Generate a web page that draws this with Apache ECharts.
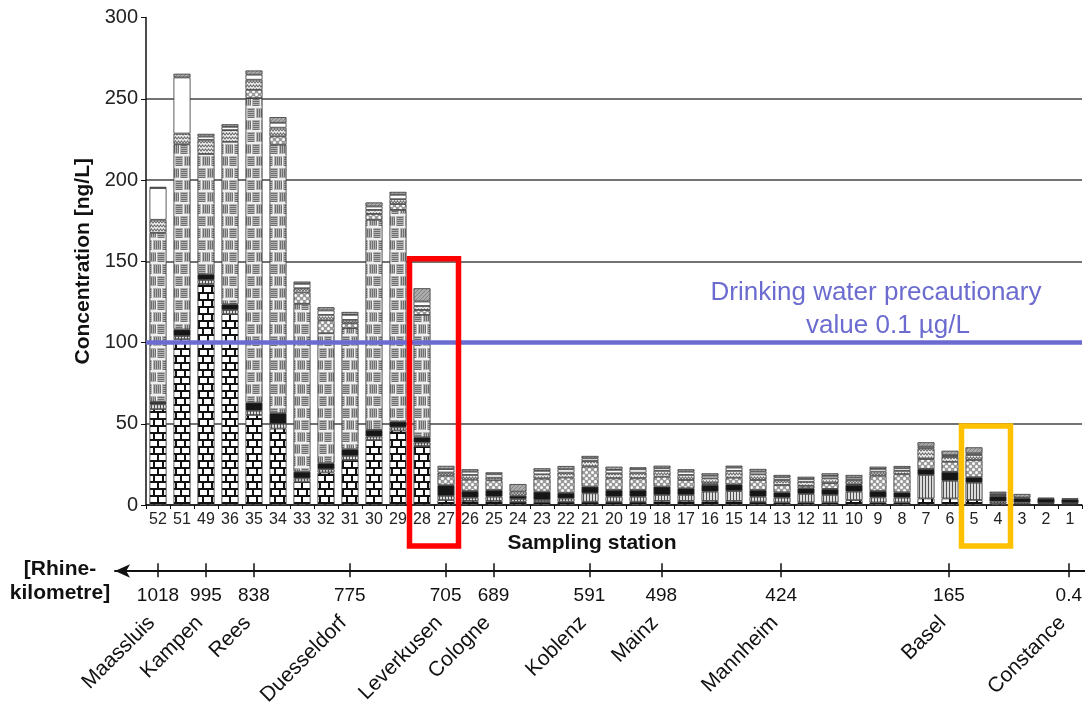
<!DOCTYPE html>
<html>
<head>
<meta charset="utf-8">
<title>Rhine sampling stations</title>
<script src="https://cdn.jsdelivr.net/npm/echarts@6/dist/echarts.min.js"></script>
<style>
  html, body { margin: 0; padding: 0; background: #ffffff; }
  #chart { width: 1085px; height: 706px; }
</style>
</head>
<body>
<div id="chart"></div>
<script>
// Sampling stations, downstream (left) to upstream (right)
const stations = ['52','51','49','36','35','34','33','32','31','30','29','28','27','26','25','24','23','22','21','20','19','18','17','16','15','14','13','12','11','10','9','8','7','6','5','4','3','2','1'];

// Stacked concentration components, ng/L (bottom to top)
const brickPart   = [59,102,136,117.5,55.4,47,14.3,20,27.7,40,45.8,36.3, 3,2.5,2.5,2,1.8,2, 2,2,2,2.5,2.5,2.5,2.5,2, 1.6,1.6,1.6,3,1.6,1.6,4,4,3.1,1,0.6,0.5,0.5];
const stripePart  = [3,2,2.5,2.5,2.6,3,2.1,2,2.5,2.1,2,2.1, 2.6,2,2.6,1.7,1.3,2, 5.2,3.1,3.1,3.7,3.7,5.7,6.1,3.1, 2.9,5.2,4.6,5.2,3.1,2.9,14.5,10.9,10.6,1.2,1,0.6,0.6];
const blackPart   = [1.5,4,3.5,3.5,5,6.5,4.1,3.7,4.1,4.1,3.5,3.3, 6.6,4.1,4.1,2,5.1,3.5, 4.1,4.1,4.1,5.1,4.1,4.1,4.1,4.1, 3.3,3.5,3.7,4.1,3.9,3.3,3.7,5.5,3.4,3.2,2.5,2.8,2.4];
const grayBrickPart = [104,114,74,100,187.4,165.2,103.3,80,74.5,129.3,130.3,75.3, 0,0,0,0,0,0, 0,0,0,0,0,0,0,0, 0,0,0,0,0,0,0,0,0,0,0,0,0];
const dotPart     = [0,0,0,0,5.1,5.2,7,8,3,3.6,3.6,3, 5.8,7,6,0,8,9.4, 12.3,7.2,7.2,6.1,5.1,1,4.1,6.2, 4.5,1.5,3.5,0.5,9.4,11.1,6.1,6.2,10.6,0,0,0,0];
const wavePart    = [8,6.6,8.7,7.2,6.2,5.3,2.6,3.3,2.1,2.5,3,2.5, 2,2.9,1.6,2.5,2.7,3, 3.5,3.1,3.5,3.6,3.1,3.1,4.2,3.5, 3.1,2.5,3,2.6,2.5,2.1,6.6,3,3.1,0.8,0.5,0,0];
const whitePart   = [19.5,34.5,2,2,3.1,3,2.7,2.7,3.1,2.1,2.7,2.7, 2.1,2,2.1,0,2.1,2.1, 1.6,2.1,2.1,1.6,2,1.6,2,1.6, 1.6,1.7,1.5,1.4,1.7,1.6,1,1.1,1,0.8,0,0,0];
const capPart     = [0.8,2.3,1.7,1.6,2.6,3.5,1.4,2,1.8,2.5,1.8,8.2, 2,1.5,1.2,4.7,1.6,2, 1.5,2,1.2,1.6,1.5,1.5,1.2,1.7, 1.5,1.4,1.6,1.7,1.4,1.4,2.7,2.7,3.7,1.2,2.2,0.6,0.6];

// Y-axis ticks
const yTicks = [0, 50, 100, 150, 200, 250, 300];

// Precautionary value line
const guideValue = 100;

// Rhine-kilometre axis: station where each mark sits, its kilometre and town
const kmStation = ['52','49','35','31','27','25','21','18','13','6','1'];
const kmValue   = ['1018','995','838','775','705','689','591','498','424','165','0.4'];
const kmTown    = ['Maassluis','Kampen','Rees','Duesseldorf','Leverkusen','Cologne','Koblenz','Mainz','Mannheim','Basel','Constance'];

// Highlighted station pairs
const boxFrom  = ['28', '5'];
const boxTo    = ['27', '4'];
const boxTop   = [151.5, 48.6];
const boxColor = ['#ff0000', '#ffc000'];

const FONT = '"Liberation Sans", Arial, Helvetica, sans-serif';
const plotLeft = 146, plotRight = 3;
const axisY = 570;

// Fill patterns
function tile(w, h, draw) {
  const c = document.createElement('canvas');
  c.width = w; c.height = h;
  const g = c.getContext('2d');
  draw(g, w, h);
  return { image: c, repeat: 'repeat' };
}

const patBrick = tile(18, 14, (g) => {
  g.fillStyle = '#ffffff'; g.fillRect(0, 0, 18, 14);
  g.fillStyle = '#111111';
  g.fillRect(0, 5, 18, 2); g.fillRect(0, 12, 18, 2);
  g.fillRect(0, 0, 2, 5); g.fillRect(9, 0, 2, 5);
  g.fillRect(4, 7, 2, 5); g.fillRect(13, 7, 2, 5);
});

const patGrayBrick = tile(18, 24, (g) => {
  g.fillStyle = '#f0f0f0'; g.fillRect(0, 0, 18, 24);
  const bricks = [[0, 0, 0], [9, 0, 1], [4, 12, 1], [13, 12, 0], [-5, 12, 0]];
  bricks.forEach(([x, y, dir]) => {
    g.fillStyle = '#b4b4b4'; g.fillRect(x, y, 8, 10);
    g.fillStyle = '#6f6f6f';
    if (dir === 0) { for (let k = 1; k < 10; k += 2) g.fillRect(x + 1, y + k, 6, 1); }
    else { for (let k = 1; k < 8; k += 2) g.fillRect(x + k, y + 1, 1, 8); }
  });
});

const patStripe = tile(3, 3, (g) => {
  g.fillStyle = '#dcdcdc'; g.fillRect(0, 0, 3, 3);
  g.fillStyle = '#505050'; g.fillRect(1, 0, 1, 3);
});

const patDots = tile(6, 6, (g) => {
  g.fillStyle = '#9a9a9a'; g.fillRect(0, 0, 6, 6);
  g.fillStyle = '#ffffff';
  [[1.5, 1.5], [4.5, 4.5]].forEach(([x, y]) => { g.beginPath(); g.arc(x, y, 1.5, 0, Math.PI * 2); g.fill(); });
});

const patWave = tile(6, 4, (g) => {
  g.fillStyle = '#eeeeee'; g.fillRect(0, 0, 6, 4);
  g.strokeStyle = '#707070'; g.lineWidth = 1.1;
  g.beginPath(); g.moveTo(0, 3); g.lineTo(1.5, 1); g.lineTo(3, 3); g.lineTo(4.5, 1); g.lineTo(6, 3); g.stroke();
});

const patCap = tile(4, 4, (g) => {
  g.fillStyle = '#ababab'; g.fillRect(0, 0, 4, 4);
  g.strokeStyle = '#848484'; g.lineWidth = 1;
  g.beginPath(); g.moveTo(0, 4); g.lineTo(4, 0); g.stroke();
});

const layers = [
  { name: 'brick',      data: brickPart,     color: patBrick },
  { name: 'stripes',    data: stripePart,    color: patStripe },
  { name: 'black',      data: blackPart,     color: '#161616' },
  { name: 'gray brick', data: grayBrickPart, color: patGrayBrick },
  { name: 'dots',       data: dotPart,       color: patDots },
  { name: 'wave',       data: wavePart,      color: patWave },
  { name: 'white',      data: whitePart,     color: '#ffffff' },
  { name: 'cap',        data: capPart,       color: patCap }
];

const isKm = (idx, value) => kmStation.indexOf(value) >= 0;

const chart = echarts.init(document.getElementById('chart'), null, { renderer: 'canvas' });

const gridColors = yTicks.map(v => v === 300 ? 'rgba(0,0,0,0)' : '#454545');

const series = layers.map((L, k) => {
  const s = {
    type: 'bar',
    name: L.name,
    stack: 'total',
    xAxisIndex: 0,
    yAxisIndex: 0,
    barWidth: 17,
    silent: true,
    data: L.data.map(v => (v > 0 ? v : '-')),
    itemStyle: { color: L.color, borderColor: '#333333', borderWidth: 0.8 }
  };
  if (k === layers.length - 1) {
    s.markLine = {
      silent: true,
      symbol: ['none', 'none'],
      label: { show: false },
      lineStyle: { color: '#6b6bd0', width: 4.5, type: 'solid' },
      data: [{ yAxis: guideValue }]
    };
  }
  return s;
});

// The river-kilometre axes carry the station list too, so their ticks get laid out
[2, 3].forEach(ax => {
  series.push({
    type: 'scatter', name: 'river axis ' + ax, xAxisIndex: ax, yAxisIndex: 2,
    silent: true, symbolSize: 0, itemStyle: { opacity: 0 },
    data: stations.map(s => [s, 0])
  });
});

const option = {
  animation: false,
  backgroundColor: '#ffffff',
  textStyle: { fontFamily: FONT },
  grid: [
    { left: plotLeft, right: plotRight, top: 17.5, bottom: 201 },
    { left: 115, right: 0, top: axisY, height: 1 },
    { left: plotLeft, right: plotRight, top: axisY, height: 1 }
  ],
  xAxis: [
    {
      type: 'category', gridIndex: 0, data: stations,
      axisLine: { onZero: false, lineStyle: { color: '#111', width: 1.5 } },
      axisTick: { show: true, interval: 0, length: 4, lineStyle: { color: '#111', width: 1 } },
      axisLabel: { interval: 0, color: '#222', fontSize: 16, margin: 7, fontFamily: FONT },
      splitLine: { show: false }
    },
    {
      // river axis line with its arrow pointing downstream
      type: 'value', gridIndex: 1, min: 0, max: 1, position: 'bottom',
      axisLine: { show: true, onZero: false, symbol: ['arrow', 'none'], symbolSize: [10, 15],
                  lineStyle: { color: '#111', width: 2 } },
      axisTick: { show: false }, axisLabel: { show: false }, splitLine: { show: false }
    },
    {
      // kilometre marks
      type: 'category', gridIndex: 2, data: stations, position: 'bottom',
      axisLine: { show: false, onZero: false },
      axisTick: { show: true, alignWithLabel: true, interval: isKm, length: 7, lineStyle: { color: '#111', width: 1.5 } },
      axisLabel: { show: true, interval: isKm, color: '#111', fontSize: 19, margin: 16, fontFamily: FONT,
                   formatter: v => kmValue[kmStation.indexOf(v)] || '' },
      splitLine: { show: false }
    },
    {
      // town names
      type: 'category', gridIndex: 2, data: stations, position: 'bottom',
      axisLine: { show: false, onZero: false },
      axisTick: { show: true, inside: true, alignWithLabel: true, interval: isKm, length: 7, lineStyle: { color: '#111', width: 1.5 } },
      axisLabel: { show: true, interval: isKm, rotate: 45, color: '#111', fontSize: 21, margin: 43,
                   padding: [0, 9, 0, 0], fontFamily: FONT,
                   formatter: v => kmTown[kmStation.indexOf(v)] || '' },
      splitLine: { show: false }
    }
  ],
  yAxis: [
    {
      type: 'value', gridIndex: 0, min: yTicks[0], max: yTicks[yTicks.length - 1], interval: yTicks[1] - yTicks[0],
      name: 'Concentration [ng/L]', nameLocation: 'middle', nameGap: 50,
      nameTextStyle: { fontWeight: 'bold', fontSize: 21, color: '#111', fontFamily: FONT },
      axisLine: { show: true, lineStyle: { color: '#111', width: 1.5 } },
      axisTick: { show: true, length: 5, lineStyle: { color: '#111', width: 1 } },
      axisLabel: { color: '#222', fontSize: 20, margin: 8, fontFamily: FONT },
      splitLine: { show: true, lineStyle: { color: gridColors, width: 1.5 } }
    },
    { type: 'value', gridIndex: 1, min: 0, max: 1, show: false },
    { type: 'value', gridIndex: 2, min: 0, max: 1, show: false }
  ],
  graphic: [
    { type: 'text', z: 50, x: 592, y: 543,
      style: { text: 'Sampling station', fill: '#111', font: 'bold 21px ' + FONT,
               align: 'center', verticalAlign: 'middle', textAlign: 'center', textVerticalAlign: 'middle' } },
    { type: 'text', z: 50, x: 60, y: 557,
      style: { text: '[Rhine-\nkilometre]', fill: '#111', font: 'bold 21px ' + FONT, lineHeight: 24,
               align: 'center', verticalAlign: 'top', textAlign: 'center', textVerticalAlign: 'top' } },
    { type: 'text', z: 50, x: 876, y: 293,
      style: { text: 'Drinking water precautionary', fill: '#6b6bd0', font: '26px ' + FONT,
               align: 'center', verticalAlign: 'middle', textAlign: 'center', textVerticalAlign: 'middle' } },
    { type: 'text', z: 50, x: 888, y: 326,
      style: { text: 'value 0.1 µg/L', fill: '#6b6bd0', font: '26px ' + FONT,
               align: 'center', verticalAlign: 'middle', textAlign: 'center', textVerticalAlign: 'middle' } }
  ],
  series: series
};

chart.setOption(option);

// Highlight boxes around selected station pairs
const boxes = boxFrom.map((from, k) => {
  const x1 = chart.convertToPixel({ xAxisIndex: 0 }, from) - 12.5;
  const x2 = chart.convertToPixel({ xAxisIndex: 0 }, boxTo[k]) + 12.5;
  const y1 = chart.convertToPixel({ yAxisIndex: 0 }, boxTop[k]);
  const y2 = chart.convertToPixel({ yAxisIndex: 0 }, 0) + 41;
  return {
    type: 'rect', z: 60, silent: true,
    shape: { x: x1, y: y1, width: x2 - x1, height: y2 - y1 },
    style: { fill: 'none', stroke: boxColor[k], lineWidth: 5.5 }
  };
});
chart.setOption({ graphic: option.graphic.concat(boxes) });
</script>
</body>
</html>
